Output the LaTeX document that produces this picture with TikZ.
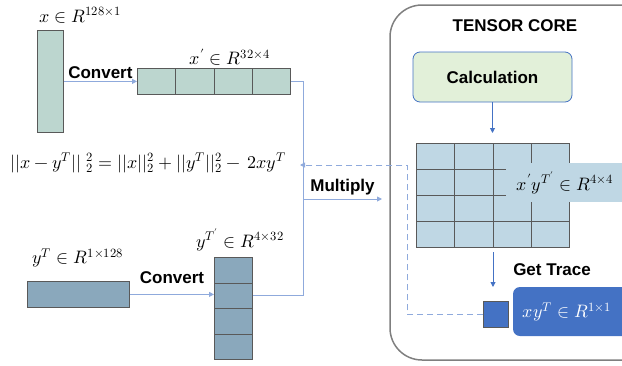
\documentclass[tikz,border=0pt]{standalone}
\usepackage{fontspec}
\usepackage{unicode-math}
\setmathfont{Latin Modern Math}
\setsansfont{Liberation Sans}
\usetikzlibrary{arrows.meta}
\definecolor{tealf}{HTML}{BCD6CF}
\definecolor{greyblue}{HTML}{8AA8BC}
\definecolor{edgec}{HTML}{595959}
\definecolor{linec}{HTML}{8FAADC}
\definecolor{darkblue}{HTML}{4472C4}
\definecolor{gridf}{HTML}{BFD7E4}
\definecolor{calcf}{HTML}{E2F0D9}
\definecolor{corec}{HTML}{7F7F7F}
\begin{document}
\begin{tikzpicture}[x=1pt,y=-1pt,
  cell/.style={draw=edgec, line width=0.8pt, inner sep=0pt, anchor=north west},
  lbl/.style={font=\sffamily\bfseries\fontsize{17}{20}\selectfont, inner sep=0pt},
  mlbl/.style={font=\fontsize{18}{21}\selectfont, inner sep=0pt},
  conn/.style={draw=linec, line width=0.9pt},
  arr/.style={conn, -{Triangle[length=5pt,width=5pt]}},
  darr/.style={draw=darkblue, line width=0.9pt, -{Triangle[length=5pt,width=5pt]}}]
\useasboundingbox (0,0) rectangle (622,365);
\clip (0,0) rectangle (622,365);

% tensor core
\draw[corec, line width=1.5pt, rounded corners=32pt] (390,5) rectangle (680,360);
\node[lbl] (tc) at (515,26) {TENSOR CORE};

% x vector
\node[cell, fill=tealf, minimum width=26pt, minimum height=102pt] (xv) at (37,30) {};
\node[mlbl] (xl) at (80,15) {$x \in R^{128\times 1}$};
% x' cells
\foreach \i in {1,...,4}{
  \node[cell, fill=tealf, minimum width=38.25pt, minimum height=26pt] (xp\i) at ({137+(\i-1)*38.25},68) {};
}
\node[mlbl] (xpl) at (230,57) {$x' \in R^{32\times 4}$};
\draw[arr] (xv.east) -- node[lbl, above=2pt] {Convert} (xp1.west);

% y vector
\node[cell, fill=greyblue, minimum width=102pt, minimum height=26pt] (yv) at (27,281) {};
\node[mlbl] (yl) at (78,258) {$y^{T} \in R^{1\times 128}$};
\foreach \i in {1,...,4}{
  \node[cell, fill=greyblue, minimum width=38pt, minimum height=25.5pt] (yp\i) at (214,{257+(\i-1)*25.5}) {};
}
\node[mlbl] (ypl) at (240,240) {$y^{T'} \in R^{4\times 32}$};
\draw[arr] (yv.east) -- (yv.east -| yp2.west);
\node[lbl] (cv2) at (172,278) {Convert};

% equation
\node[mlbl] (eq) at (148,163) {$||x-y^{T}||\;{}^2_2= ||x||_2^2+||y^{T}||_2^2-\,2xy^{T}$};
\coordinate (eqend) at (300,165);

% merging lines
\coordinate (j) at (303,199);
\coordinate (mend) at (382,199);
\draw[conn] (xp4.east) -| (j);
\draw[conn] (yp2.east) -| (j);
\draw[arr] (j) -- node[lbl, above=4pt] {Multiply} (mend);

% calculation
\node[draw=darkblue, fill=calcf, rounded corners=7pt, minimum width=159pt, minimum height=50pt, line width=0.8pt, lbl] (calc) at (492.5,77) {Calculation};

% grid
\foreach \r in {1,...,4}{
  \foreach \c in {1,...,4}{
    \node[cell, fill=gridf, minimum width=38.25pt, minimum height=26pt] (g\r\c) at ({416+(\c-1)*38.25},{143+(\r-1)*26}) {};
  }
}
\fill[gridf] (506,163) rectangle (640,202);
\node[mlbl] (gl) at (565,183) {$x'y^{T'} \in R^{4\times 4}$};
\draw[darr] (calc.south) -- (calc.south |- 0,133);
\coordinate (gt) at (493,252);
\coordinate (gb) at (493,287);
\draw[darr] (gt) -- (gb);
\node[lbl] (trace) at (552,270) {Get Trace};

% result
\node[cell, fill=darkblue, draw=edgec, minimum width=25pt, minimum height=26pt] (sq) at (483,301) {};
\fill[darkblue, rounded corners=7pt] (513,287) rectangle (660,336);
\node[mlbl, text=white] (res) at (567,312) {$xy^{T} \in R^{1\times 1}$};

% dashed feedback
\coordinate (d1) at (407,314);
\coordinate (d2) at (407,165);
\draw[conn, dashed, dash pattern=on 6pt off 4pt, -{Triangle[length=5pt,width=5pt]}] (sq.west) -- (sq.west -| d1) -- (d2) -- (eqend);
\end{tikzpicture}
\end{document}
